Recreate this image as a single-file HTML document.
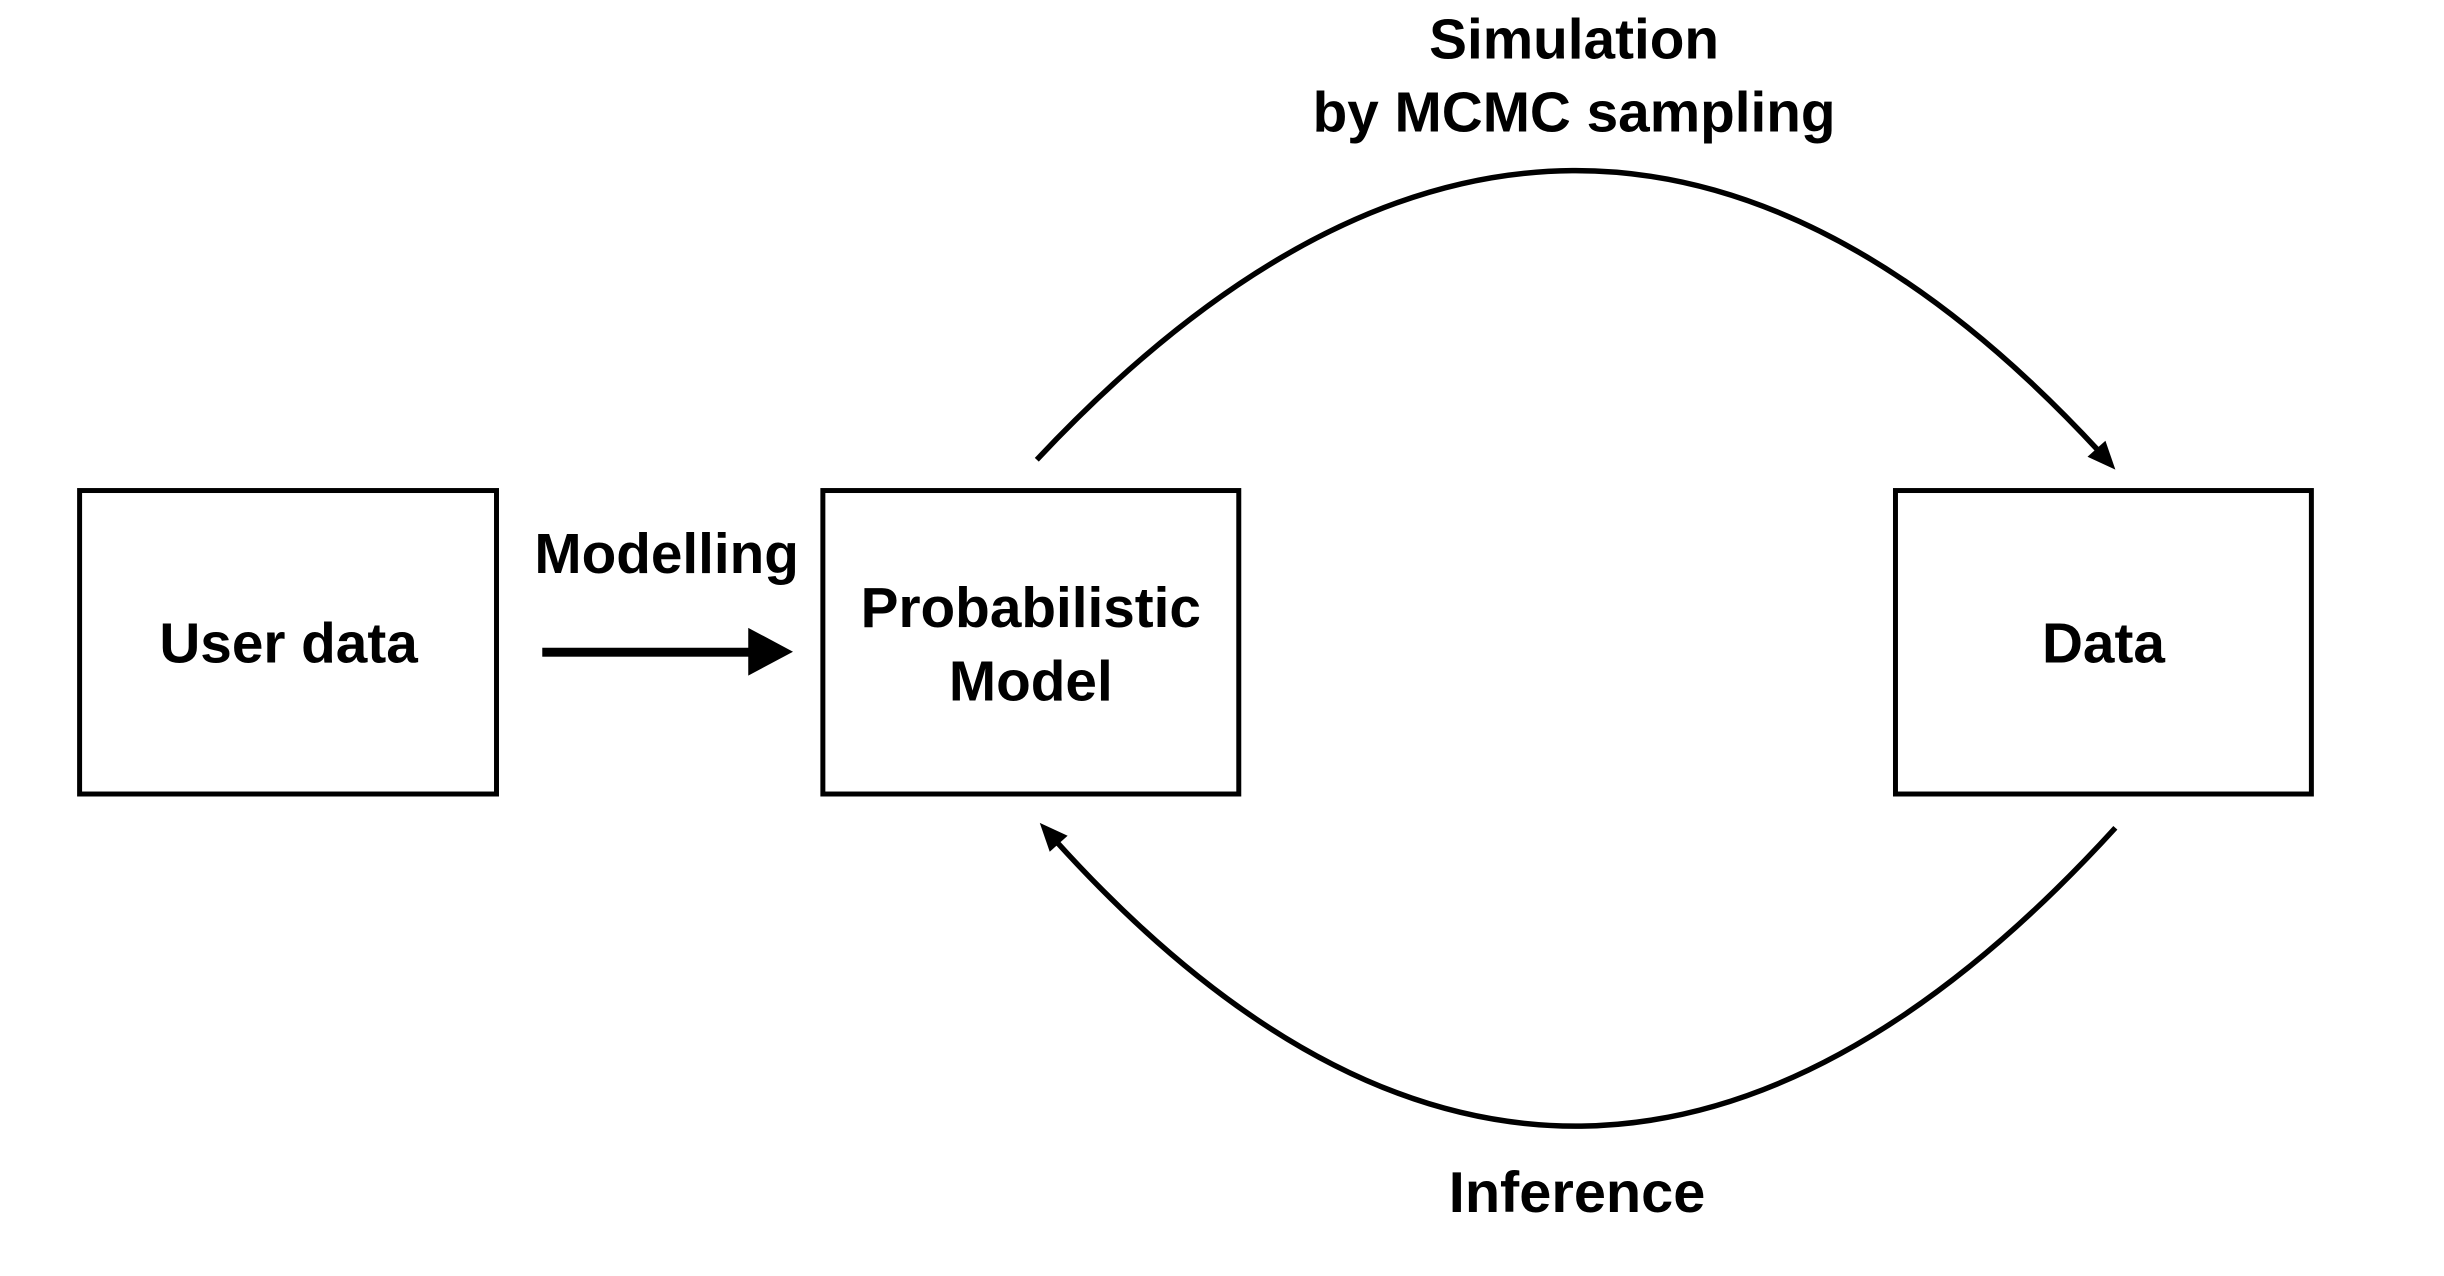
<!DOCTYPE html>
<html><head><meta charset="utf-8"><style>
html,body{margin:0;padding:0;background:#fff}
svg{display:block}
text{font-family:"Liberation Sans",Arial,sans-serif;font-weight:bold;fill:#000;text-anchor:middle}
</style></head><body>
<svg width="2444" height="1276" viewBox="0 0 2444 1276" xmlns="http://www.w3.org/2000/svg">
<g transform="scale(0.995)">
<rect x="80" y="493" width="419" height="305" fill="none" stroke="#000" stroke-width="5"/>
<rect x="827" y="493" width="418" height="305" fill="none" stroke="#000" stroke-width="5"/>
<rect x="1905" y="493" width="418" height="305" fill="none" stroke="#000" stroke-width="5"/>
<text x="290" y="666" font-size="57">User data</text>
<text x="1036" y="630" font-size="57">Probabilistic</text>
<text x="1036" y="704" font-size="57">Model</text>
<text x="2114" y="666" font-size="57">Data</text>
<text x="670" y="576" font-size="57">Modelling</text>
<text x="1582" y="59" font-size="57">Simulation</text>
<text x="1582" y="132" font-size="57">by MCMC sampling</text>
<text x="1585" y="1218" font-size="58">Inference</text>
<rect x="545" y="651" width="210" height="9" fill="#000"/>
<polygon points="752,631 797,655 752,679" fill="#000"/>
<path d="M1042,462 Q1584,-115 2110,454" fill="none" stroke="#000" stroke-width="5.5"/>
<polygon points="2126,472 2098,459 2116,443" fill="#000"/>
<path d="M2126,832 Q1585,1425 1061,845" fill="none" stroke="#000" stroke-width="5.5"/>
<polygon points="1045,827 1073,840 1055,856" fill="#000"/>
</g>
</svg>
</body></html>
